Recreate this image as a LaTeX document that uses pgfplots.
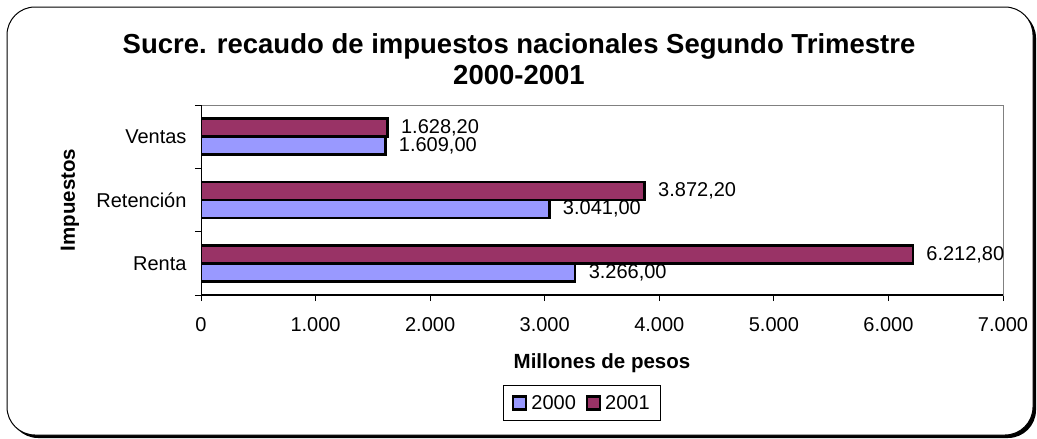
\documentclass[border=0pt]{standalone}
\usepackage{pgfplots}
\pgfplotsset{compat=1.18}
\usepackage{fontspec}
\setmainfont{Liberation Sans}
\definecolor{cA}{HTML}{9999FF}
\definecolor{cB}{HTML}{993366}
\newcommand\ftick{\fontsize{20bp}{24bp}\selectfont}
\newcommand\flab{\fontsize{20.5bp}{24bp}\selectfont\bfseries}
\newcommand\ftitle{\fontsize{27.5bp}{31bp}\selectfont\bfseries}
\pgfplotsset{sqleg/.style={legend image code/.code={\draw[##1, draw=black, line width=2.2bp] (0bp,-6.5bp) rectangle (13bp,6.5bp);}}}
\begin{document}
\begin{tikzpicture}
\path[use as bounding box] (0bp,0bp) rectangle (1037bp,-439bp);
\fill[black, rounded corners=28bp] (10bp,-10bp) rectangle (1036bp,-438bp);
\filldraw[fill=white, draw=black, line width=1bp, rounded corners=28bp] (7bp,-7bp) rectangle (1033bp,-435bp);
\begin{axis}[
  at={(201bp,-295bp)}, anchor=south west,
  scale only axis, width=802bp, height=190bp,
  /pgf/number format/assume math mode=true,
  xmin=0, xmax=7000, ymin=-0.5, ymax=2.5,
  xbar, bar width=18bp,
  every axis plot post/.append style={sqleg},
  xtick={0,1000,...,7000},
  xticklabel style={font=\ftick, /pgf/number format/1000 sep={.}, yshift=-13bp},
  ytick={-0.5,0.5,1.5,2.5}, yticklabels={,,,},
  extra y ticks={0,1,2},
  extra y tick labels={Renta,Retención,Ventas},
  extra y tick style={major tick length=0pt, yticklabel style={font=\ftick, xshift=-11bp}},
  tick align=outside, tick pos=left, major tick length=6bp,
  tick style={black, line width=1bp},
  axis line style={draw=gray, line width=1bp},
  xlabel={Millones de pesos},
  x label style={font=\flab, at={(axis description cs:0.5,-0.358)}, anchor=center},
  ylabel={Impuestos},
  y label style={font=\flab, at={(axis description cs:-0.1633,0.5)}, anchor=center},
  title={Sucre. recaudo de impuestos nacionales Segundo Trimestre\\2000-2001},
  title style={font=\ftitle, align=center, at={(axis description cs:0.3965,1.212)}, anchor=center},
  point meta=x,
  nodes near coords={\pgfmathprintnumber[fixed, fixed zerofill, precision=2, use comma, 1000 sep={.}]{\pgfplotspointmeta}},
  nodes near coords style={font=\ftick, anchor=west, xshift=9bp},
  legend style={at={(axis description cs:0.475,-0.568)}, anchor=center, legend columns=2, draw=black, line width=1bp, font=\ftick, inner xsep=9bp, inner ysep=8bp, nodes={inner sep=2bp},
    /tikz/every odd column/.append style={column sep=2bp},
    /tikz/every even column/.append style={column sep=8bp}},
]
\addplot[fill=cA, draw=black, line width=2.5bp, bar shift=-9bp] coordinates {(3266,0) (3041,1) (1609,2)};
\addplot[fill=cB, draw=black, line width=2.5bp, bar shift=9bp] coordinates {(6212.8,0) (3872.2,1) (1628.2,2)};
\legend{2000,2001}
\draw[black, line width=1.2bp] (rel axis cs:0,1) -- (rel axis cs:0,0) -- (rel axis cs:1,0);
\end{axis}
\end{tikzpicture}
\end{document}
